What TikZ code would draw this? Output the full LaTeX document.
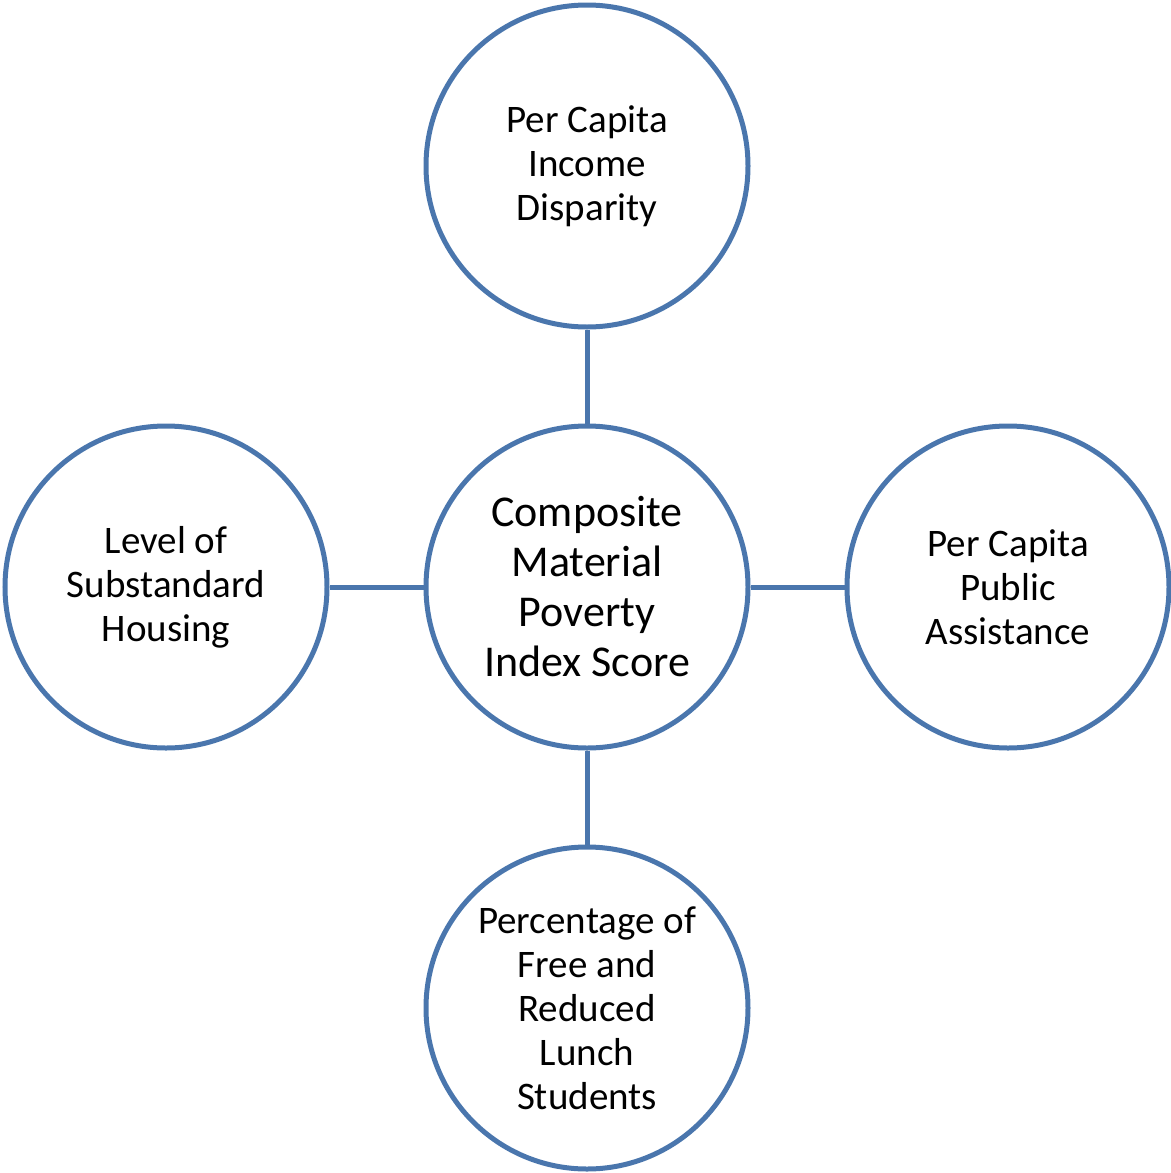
\documentclass[tikz,border=0pt]{standalone}
\usepackage{fontspec}
\setmainfont{Carlito}
\usepackage{tikz}
\usetikzlibrary{positioning}

\definecolor{ringblue}{RGB}{74,118,173}

\tikzset{
  factor/.style={circle,draw=ringblue,line width=2.5pt,minimum size=161pt,inner sep=0pt,
    align=center,font=\fontsize{19.5}{22}\selectfont},
  score/.style={factor,font=\fontsize{22}{25}\selectfont},
  link/.style={draw=ringblue,line width=2.5pt}
}

\begin{document}
\begin{tikzpicture}[x=0.5pt,y=-0.5pt]
  \useasboundingbox (0,0) rectangle (1171,1173);
  %middle
  \node[score] (comp) at (587,587) {Composite\\Material\\Poverty\\Index Score};
  %around it
  \node[factor,above=47pt of comp] (income) {Per Capita\\Income\\Disparity};
  \node[factor,left=47pt of comp] (housing) {Level of\\Substandard\\Housing};
  \node[factor,right=47pt of comp] (assist) {Per Capita\\Public\\Assistance};
  \node[factor,below=47pt of comp] (lunch) {Percentage of\\Free and\\Reduced\\Lunch\\Students};

  \path[link] (comp) -- (income);
  \path[link] (comp) -- (housing);
  \path[link] (comp) -- (assist);
  \path[link] (comp) -- (lunch);
\end{tikzpicture}
\end{document}
